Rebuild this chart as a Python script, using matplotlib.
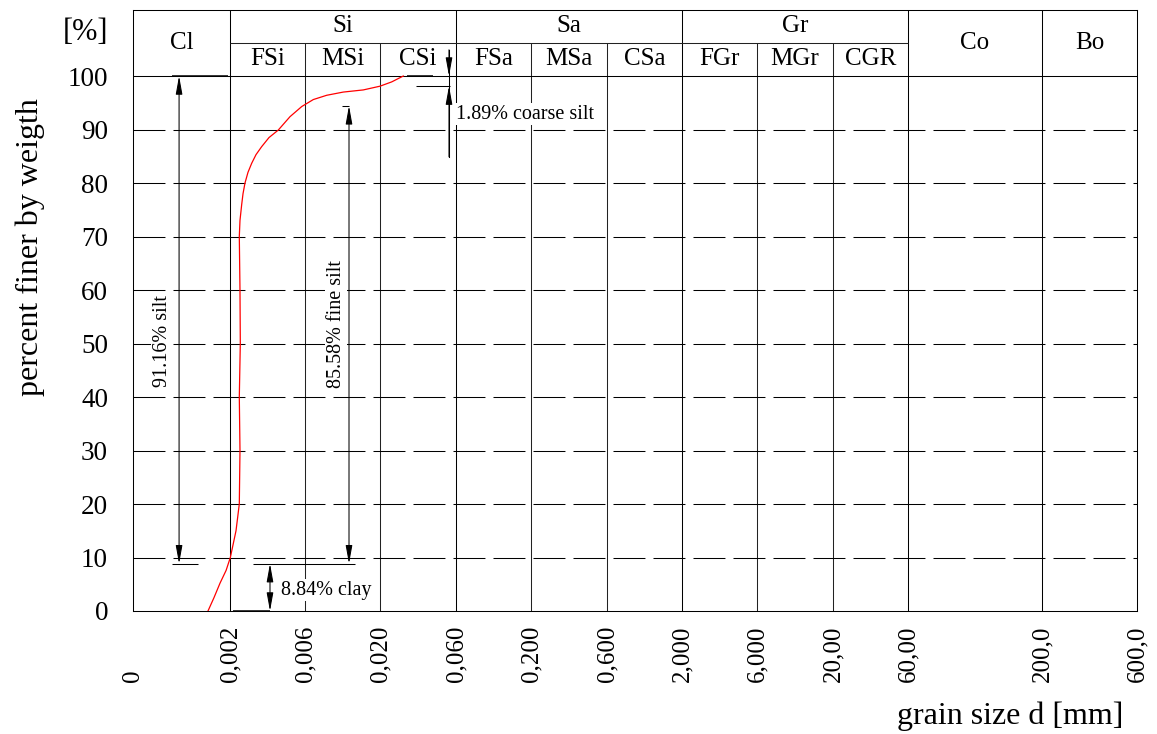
import numpy as np
import matplotlib
matplotlib.use("Agg")
import matplotlib.pyplot as plt
from matplotlib.patches import FancyArrowPatch
import matplotlib.transforms as mtransforms

plt.rcParams['font.family'] = ['Liberation Serif', 'DejaVu Serif']
plt.rcParams['lines.scale_dashes'] = False

# grain size curve (mm, % passing)
grain_d = [0.001546, 0.00167, 0.001794, 0.00192, 0.00201, 0.002184, 0.002292,
           0.002315, 0.002292, 0.002326, 0.002315, 0.002292, 0.002315, 0.002374,
           0.00242, 0.002491, 0.002603, 0.002749, 0.002927, 0.003181, 0.003542,
           0.004057, 0.004816, 0.005722, 0.006856, 0.0085, 0.011096, 0.015297,
           0.02, 0.02368, 0.028]
passing = [0, 2.5, 5.2, 7.6, 10, 15, 20, 30, 40, 50, 60, 70, 73, 76, 78, 80, 82,
           83.7, 85.3, 86.8, 88.5, 89.9, 92.4, 94.3, 95.6, 96.4, 97.0, 97.4,
           98.1, 98.9, 100]

# fractions
clay_pct = 8.84
fine_silt_pct = 85.58
coarse_silt_pct = 1.89
silt_pct = 91.16

# x axis ticks
tick_d = [0, 0.002, 0.006, 0.02, 0.06, 0.2, 0.6, 2, 6, 20, 60, 200, 600]
tick_lbl = ['0', '0,002', '0,006', '0,020', '0,060', '0,200', '0,600', '2,000',
            '6,000', '20,00', '60,00', '200,0', '600,0']
major_d = [0.002, 0.06, 2, 60, 200]
minor_d = [0.006, 0.02, 0.2, 0.6, 6, 20]

top_groups = [('Cl', 0, 0.002), ('Si', 0.002, 0.06), ('Sa', 0.06, 2),
              ('Gr', 2, 60), ('Co', 60, 200), ('Bo', 200, 600)]
sub_groups = [('FSi', 0.002, 0.006), ('MSi', 0.006, 0.02), ('CSi', 0.02, 0.06),
              ('FSa', 0.06, 0.2), ('MSa', 0.2, 0.6), ('CSa', 0.6, 2),
              ('FGr', 2, 6), ('MGr', 6, 20), ('CGR', 20, 60)]

# scale: linear below 0.002, log between knots with the sheet's spacing
knot_d = np.array([0.002, 0.006, 0.02, 0.06, 0.2, 0.6, 2, 6, 20, 60, 200, 600])
knot_p = np.array([97, 172, 247, 323, 398, 474, 549, 624, 700, 775, 909, 1004.0])


def fwd(d):
    d = np.asarray(d, dtype=float)
    lo = d / knot_d[0] * knot_p[0]
    hi = np.interp(np.log10(np.maximum(d, knot_d[0])), np.log10(knot_d), knot_p)
    return np.where(d < knot_d[0], lo, hi)


def inv(p):
    p = np.asarray(p, dtype=float)
    lo = p / knot_p[0] * knot_d[0]
    hi = 10 ** np.interp(np.maximum(p, knot_p[0]), knot_p, np.log10(knot_d))
    return np.where(p < knot_p[0], lo, hi)


def mid(a, b):
    return float(inv((fwd(a) + fwd(b)) / 2))


Y_TOP = 112.34
Y_ROW = 106.2
LW = 0.75

fig = plt.figure(figsize=(11.57, 7.34), dpi=100)
ax = fig.add_axes([133 / 1157, 123 / 734, 1004 / 1157, 601 / 734])
ax.set_xscale('function', functions=(fwd, inv))
ax.set_xlim(0, 600)
ax.set_ylim(0, Y_TOP)
for s in ax.spines.values():
    s.set_linewidth(LW)

# grid
ax.vlines(major_d, 0, Y_TOP, color='k', lw=LW)
ax.vlines(minor_d, 0, Y_ROW, color='#222222', lw=LW)
ax.hlines(100, 0, 600, color='k', lw=LW)
ax.hlines(Y_ROW, 0.002, 60, color='#222222', lw=LW)
for yv in range(10, 100, 10):
    ax.plot([0, 600], [yv, yv], color='k', lw=LW, dashes=(23, 5.8))

# header text
for name, a, b in top_groups:
    yc = Y_ROW if name in ('Cl', 'Co', 'Bo') else (Y_TOP + Y_ROW) / 2
    ax.text(mid(a, b), yc, name, ha='center', va='center', fontsize=18)
for name, a, b in sub_groups:
    ax.text(mid(a, b), (Y_ROW + 100) / 2, name, ha='center', va='center', fontsize=18)

# curve
ax.plot(grain_d, passing, color='red', lw=0.9, zorder=5)


def arrow(x, y0, y1, style):
    ax.add_patch(FancyArrowPatch((x, y0), (x, y1), arrowstyle=style,
                                 mutation_scale=10, shrinkA=0, shrinkB=0,
                                 color='k', lw=LW, zorder=6))


arrow_style2 = '<|-|>,head_length=1.1,head_width=0.2'
arrow_style1 = '-|>,head_length=1.1,head_width=0.2'

# silt
arrow(0.00095, clay_pct, 100, arrow_style2)
ax.hlines(clay_pct, 0.000804, 0.00134, color='k', lw=LW)
ax.hlines(100, 0.000804, 0.00196, color='k', lw=1.1)
ax.text(0.000598, 50.5, f'{silt_pct:.2f}% silt', rotation=90, ha='center',
        va='center', fontsize=14.5, zorder=4,
        bbox=dict(facecolor='white', edgecolor='none', pad=1))

# fine silt
fine_top = clay_pct + fine_silt_pct
arrow(0.01216, clay_pct, fine_top, arrow_style2)
ax.hlines(clay_pct, 0.002801, 0.01339, color='k', lw=LW)
ax.hlines(fine_top, 0.01087, 0.01216, color='k', lw=LW)
ax.text(0.0099, 53.7, f'{fine_silt_pct:.2f}% fine silt', rotation=90, ha='center',
        va='center', fontsize=14.5, zorder=4,
        bbox=dict(facecolor='white', edgecolor='none', pad=1))

# clay
arrow(0.003593, 0, clay_pct, arrow_style2)
ax.hlines(0, 0.002089, 0.003593, color='k', lw=1.1)
ax.text(0.004221, 3.9, f'{clay_pct:.2f}% clay', ha='left', va='center',
        fontsize=14.5, zorder=4,
        bbox=dict(facecolor='white', edgecolor='none', pad=1))

# coarse silt
cs_low = 100 - coarse_silt_pct
ax.plot([0.05423, 0.05423], [104.9, 84.9], color='k', lw=LW, zorder=6)
arrow(0.05423, 104.9, 100, arrow_style1)
arrow(0.05423, 84.9, cs_low, arrow_style1)
ax.hlines(cs_low, 0.03365, 0.05501, color='k', lw=LW)
ax.hlines(100, 0.02955, 0.04303, color='k', lw=1.1)
ax.text(0.0601, 92.9, f'{coarse_silt_pct:.2f}% coarse silt', ha='left', va='center',
        fontsize=14.5, zorder=4,
        bbox=dict(facecolor='white', edgecolor='none', pad=1))

# axes ticks
ax.set_yticks(range(0, 101, 10))
ax.tick_params(axis='y', length=0, pad=18, labelsize=19.5)
ax.set_xticks(tick_d)
ax.set_xticklabels([])
ax.tick_params(axis='x', length=0)
trans = mtransforms.blended_transform_factory(ax.transData, ax.transAxes)
for xv, lbl in zip(tick_d, tick_lbl):
    ax.text(xv, -71 / 601, lbl, transform=trans, rotation=90, ha='center',
            va='bottom', fontsize=18)
ax.text(-25 / 1004, 108.2, '[%]', transform=mtransforms.blended_transform_factory(
    ax.transAxes, ax.transData), ha='right', va='center', fontsize=22)

fig.text(30 / 1157, 1 - 247 / 734, 'percent finer by weigth', rotation=90,
         ha='center', va='center', fontsize=23)
fig.text(1123 / 1157, 1 - 724 / 734, 'grain size d [mm]', ha='right',
         va='baseline', fontsize=23)

fig.savefig('out.png', dpi=100)
